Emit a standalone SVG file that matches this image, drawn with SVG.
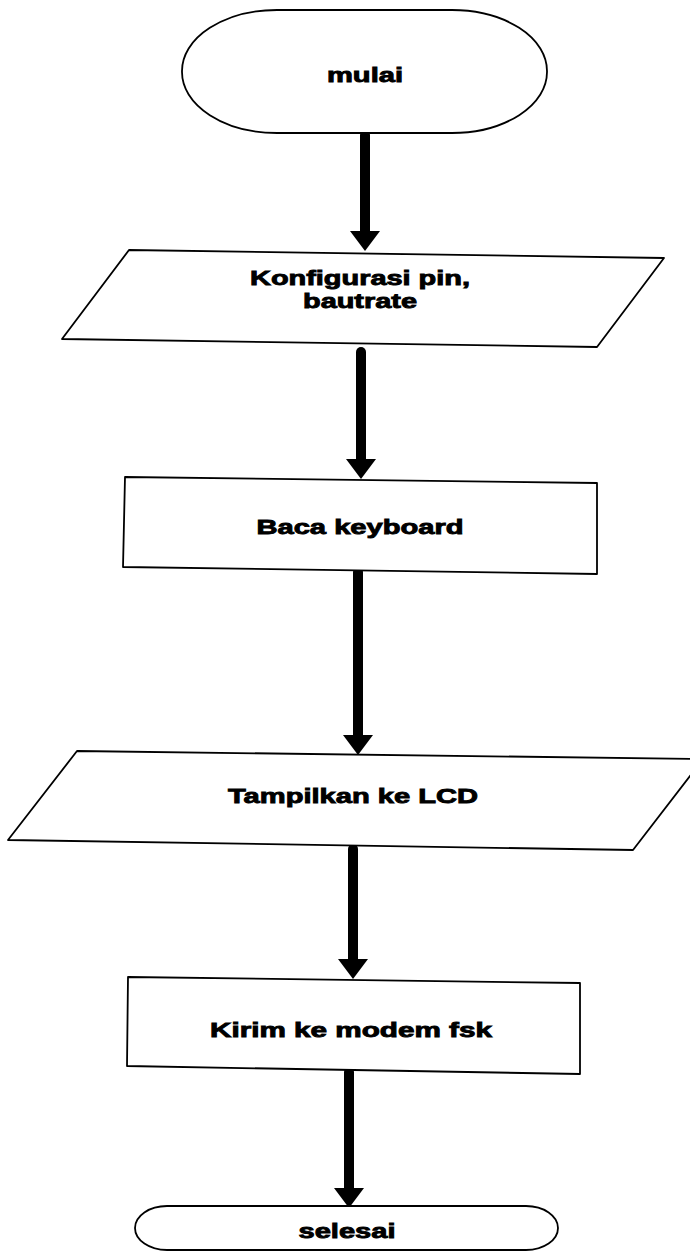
<svg xmlns="http://www.w3.org/2000/svg" width="690" height="1252" viewBox="0 0 690 1252">
<style>
.shape{fill:#fff;stroke:#000;stroke-width:1.8;stroke-linejoin:round}
.lbl{font-family:"Liberation Sans",Arial,sans-serif;font-weight:bold;font-size:21px;fill:#000;stroke:#000;stroke-width:0.9;text-anchor:middle}
.flow{stroke:#000;stroke-width:10;stroke-linecap:round;fill:none}
</style>
<defs>
<marker id="ah" viewBox="0 0 20 30" refX="0" refY="15" markerWidth="20" markerHeight="30" markerUnits="userSpaceOnUse" orient="auto">
<path d="M0,0 L20,15 L0,30 Z" fill="#000"/>
</marker>
</defs>
<g id="connectors">
<line class="flow" x1="365" y1="135" x2="365" y2="231" marker-end="url(#ah)"/>
<line class="flow" x1="361" y1="352" x2="361" y2="459" marker-end="url(#ah)"/>
<line class="flow" x1="358" y1="572" x2="358" y2="735" marker-end="url(#ah)"/>
<line class="flow" x1="353" y1="849" x2="353" y2="959" marker-end="url(#ah)"/>
<line class="flow" x1="349" y1="1072" x2="349" y2="1188" marker-end="url(#ah)"/>
</g>
<g id="start">
<rect class="shape" x="182" y="10" width="365" height="123" rx="95" ry="61"/>
<text class="lbl" x="365" y="82" textLength="76" lengthAdjust="spacingAndGlyphs">mulai</text>
</g>
<g id="config">
<polygon class="shape" points="129,250 664,258 597,347 62,339"/>
<text class="lbl" x="360" y="285" textLength="220" lengthAdjust="spacingAndGlyphs">Konfigurasi pin,</text>
<text class="lbl" x="360" y="308" textLength="114" lengthAdjust="spacingAndGlyphs">bautrate</text>
</g>
<g id="read">
<polygon class="shape" points="125,477 597,483 597,574 123,567"/>
<text class="lbl" x="360" y="534" textLength="207" lengthAdjust="spacingAndGlyphs">Baca keyboard</text>
</g>
<g id="display">
<polygon class="shape" points="77,751 703,759 633,850 8,840"/>
<text class="lbl" x="353" y="803" textLength="250" lengthAdjust="spacingAndGlyphs">Tampilkan ke LCD</text>
</g>
<g id="send">
<polygon class="shape" points="128,977 580,983 580,1074 127,1066"/>
<text class="lbl" x="351" y="1037" textLength="282" lengthAdjust="spacingAndGlyphs">Kirim ke modem fsk</text>
</g>
<g id="end">
<rect class="shape" x="135" y="1206" width="423" height="44" rx="32" ry="22"/>
<text class="lbl" x="347" y="1238" textLength="97" lengthAdjust="spacingAndGlyphs">selesai</text>
</g>
</svg>
